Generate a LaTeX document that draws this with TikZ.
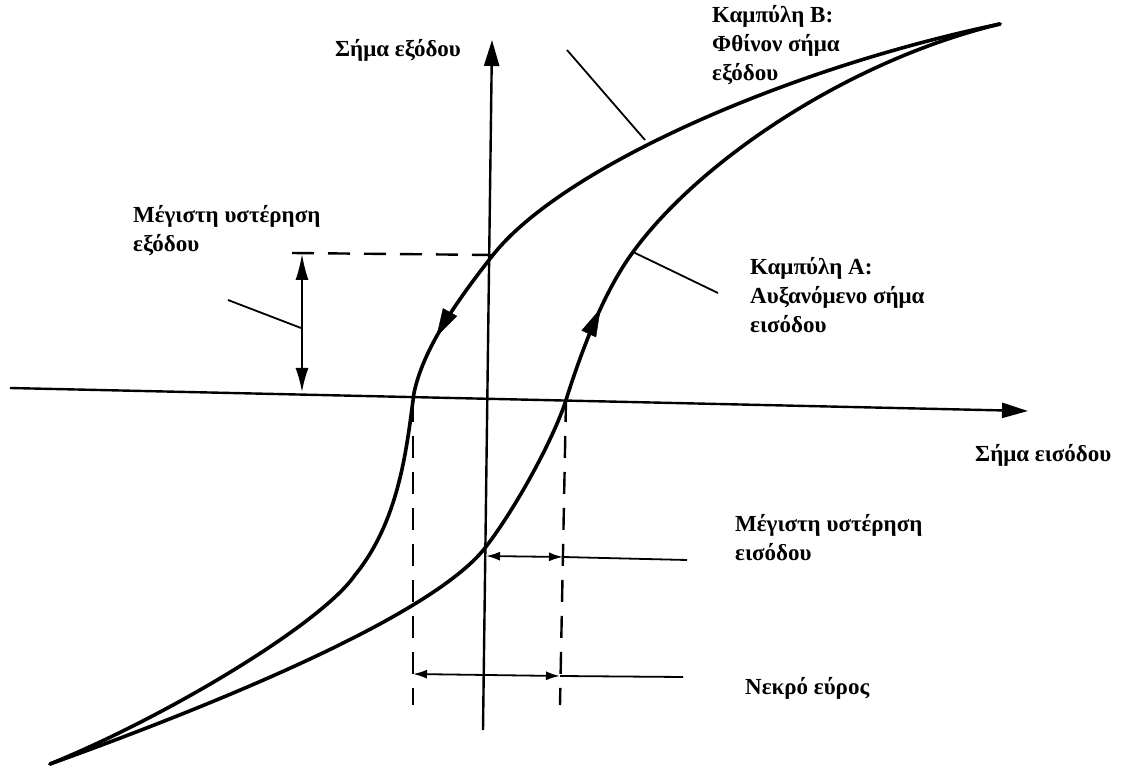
\documentclass[tikz,border=0pt]{standalone}
\usepackage{fontspec}
\setmainfont{Liberation Serif}
\usetikzlibrary{arrows.meta,decorations.markings}
\begin{document}
\begin{tikzpicture}[x=1pt,y=-1pt,
  curve/.style={line width=3.6pt, line join=round, line cap=round},
  axisline/.style={line width=2.4pt, -{Triangle[length=26pt,width=15pt]}},
  dim/.style={line width=1.8pt},
  thin/.style={line width=1.8pt},
  dashln/.style={line width=2.4pt, dash pattern=on 22pt off 14pt},
  dirarrow/.style={decorate, decoration={markings, mark=at position #1 with {\arrow{Triangle[length=28pt,width=16pt]}}}},
  lbl/.style={font=\fontsize{23}{29}\selectfont\bfseries, inner sep=0pt, align=left, text=black}]
\useasboundingbox[fill=white] (0,0) rectangle (1125,767);

% axes
\coordinate (xs) at (10,388);
\coordinate (xe) at (1028,411);
\coordinate (ys) at (483,730);
\coordinate (ye) at (492,40);
\draw[axisline] (xs) -- (xe);
\draw[axisline] (ys) -- (ye);

% curve points
\coordinate (top) at (1000,24);
\coordinate (bot) at (50,764);
\coordinate (bY) at (493,255);
\coordinate (bX) at (414,393);
\coordinate (bL) at (355,575);
\coordinate (aY) at (485,548);
\coordinate (aX) at (566,400);
\coordinate (aL) at (633,252);

% curve B (decreasing input)
\draw[curve] (top) .. controls (780,70) and (560,170) .. (bY)
  .. controls (455,303) and (423,350) .. (bX)
  .. controls (407,445) and (400,520) .. (bL)
  .. controls (322,623) and (170,715) .. (bot);
% curve A (increasing input)
\draw[curve] (bot) .. controls (200,710) and (429,619) .. (aY)
  .. controls (516,508) and (554,438) .. (aX)
  .. controls (583,346) and (605,290) .. (aL)
  .. controls (700,160) and (850,60) .. (top);

% direction arrows on curves
\path[dirarrow=0.62] (bY) .. controls (455,303) and (423,350) .. (bX);
\path[dirarrow=0.6] (aX) .. controls (583,346) and (605,290) .. (aL);

% output hysteresis
\coordinate (oh1) at (302,254);
\coordinate (oh2) at (302,392);
\draw[dashln] (292,253) -- (bY);
\draw[dim, {Latex[length=26pt,width=13pt]}-{Latex[length=24pt,width=13pt]}] (oh1) -- (oh2);
\coordinate (ohl) at (228,300);
\coordinate (ohm) at (301,328);
\draw[thin] (ohl) -- (ohm);

% dashed verticals
\coordinate (d1t) at (413,400);
\coordinate (d1b) at (413,705);
\coordinate (d2t) at (566,400);
\coordinate (d2b) at (560,705);
\draw[dashln] (d1t) -- (d1b);
\draw[dashln] (d2t) -- (d2b);

% input hysteresis
\coordinate (ih1) at (486,556);
\coordinate (ih2) at (563,557);
\coordinate (ih3) at (687,560);
\draw[dim, {Latex[length=14pt,width=9pt]}-{Latex[length=14pt,width=9pt]}] (ih1) -- (ih2);
\draw[dim] (ih2) -- (ih3);

% dead band
\coordinate (db1) at (413,674);
\coordinate (db2) at (560,676);
\coordinate (db3) at (683,677);
\draw[dim, {Latex[length=14pt,width=9pt]}-{Latex[length=14pt,width=9pt]}] (db1) -- (db2);
\draw[dim] (db2) -- (db3);

% curve leaders
\coordinate (lb1) at (567,50);
\coordinate (lb2) at (645,140);
\draw[thin] (lb1) -- (lb2);
\coordinate (la2) at (718,293);
\draw[thin] (aL) -- (la2);

% labels
\node[lbl, anchor=west] (tout) at (335,50) {Σήμα εξόδου};
\node[lbl, anchor=north west] (tB) at (712,5) {Καμπύλη Β:\\Φθίνον σήμα\\εξόδου};
\node[lbl, anchor=north west] (toh) at (133,205) {Μέγιστη υστέρηση\\εξόδου};
\node[lbl, anchor=north west] (tA) at (750,257) {Καμπύλη Α:\\Αυξανόμενο σήμα\\εισόδου};
\node[lbl, anchor=west] (tin) at (975,455) {Σήμα εισόδου};
\node[lbl, anchor=north west] (tih) at (735,514) {Μέγιστη υστέρηση\\εισόδου};
\node[lbl, anchor=west] (tdb) at (745,688) {Νεκρό εύρος};
\end{tikzpicture}
\end{document}
